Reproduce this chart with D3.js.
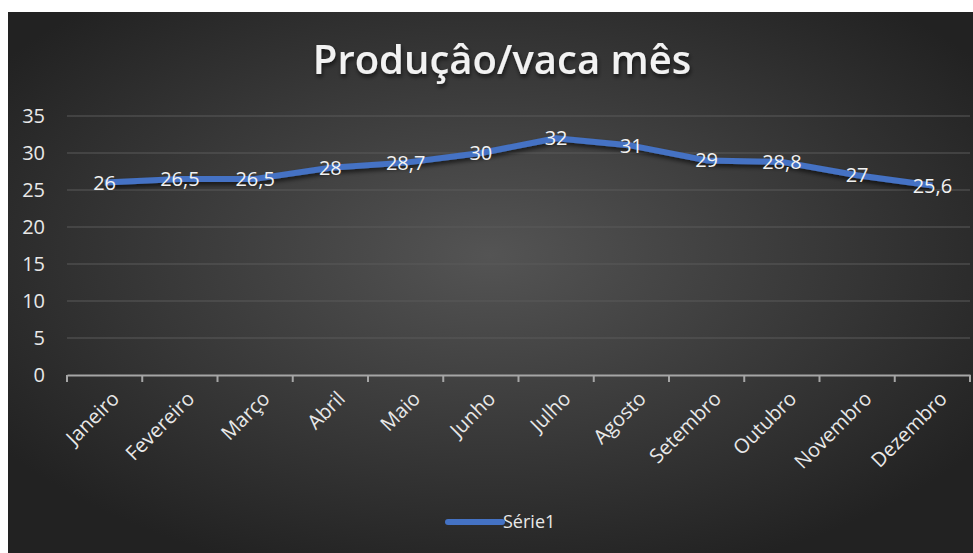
<!DOCTYPE html>
<html>
<head>
<meta charset="utf-8">
<script src="https://cdn.jsdelivr.net/npm/d3@7"></script>
<style>
  body { margin: 0; background: #fff; }
  text { font-family: "Open Sans", "Noto Sans", sans-serif; }
</style>
</head>
<body>
<div id="chart"></div>
<script>
// data
var months = ["Janeiro", "Fevereiro", "Março", "Abril", "Maio", "Junho",
              "Julho", "Agosto", "Setembro", "Outubro", "Novembro", "Dezembro"];
var producao = [26, 26.5, 26.5, 28, 28.7, 30, 32, 31, 29, 28.8, 27, 25.6];
var yTicks = [0, 5, 10, 15, 20, 25, 30, 35];
var seriesName = "Série1";
var chartTitle = "Produçâo/vaca mês";

var width = 973, height = 553;

var svg = d3.select("#chart").append("svg")
    .attr("width", width)
    .attr("height", height);

var defs = svg.append("defs");
var grad = defs.append("radialGradient")
    .attr("id", "bg")
    .attr("cx", "50%").attr("cy", "45%").attr("r", "62%");
grad.append("stop").attr("offset", "0%").attr("stop-color", "#545454");
grad.append("stop").attr("offset", "100%").attr("stop-color", "#222222");

var shadow = defs.append("filter").attr("id", "shadow")
    .attr("x", "-10%").attr("y", "-20%").attr("width", "120%").attr("height", "160%");
shadow.append("feDropShadow")
    .attr("dx", 1).attr("dy", 3).attr("stdDeviation", 2)
    .attr("flood-color", "#000").attr("flood-opacity", 0.6);

// chart box (cut off at the right, like the screenshot)
svg.append("rect")
    .attr("x", 8).attr("y", 12)
    .attr("width", width - 8).attr("height", height - 12)
    .attr("fill", "url(#bg)");

var x = d3.scaleBand().domain(months).range([67, 970]);
var y = d3.scaleLinear().domain([0, 35]).range([375, 116]);

// gridlines
svg.append("g").selectAll("line")
    .data(yTicks.filter(function(d) { return d > 0; }))
    .enter().append("line")
    .attr("x1", 67).attr("x2", 970)
    .attr("y1", function(d) { return y(d); })
    .attr("y2", function(d) { return y(d); })
    .attr("stroke", "#5a5a5a").attr("stroke-width", 1);

// y axis labels
svg.append("g").selectAll("text")
    .data(yTicks).enter().append("text")
    .attr("x", 45)
    .attr("y", function(d) { return y(d); })
    .attr("dy", "0.35em")
    .attr("text-anchor", "end")
    .attr("fill", "#e8e8e8")
    .attr("font-size", 20)
    .text(function(d) { return d; });

// x axis
var xAxis = svg.append("g")
    .attr("transform", "translate(0,375)")
    .call(d3.axisBottom(x).tickSize(0).tickFormat(""));
xAxis.select(".domain").attr("stroke", "#a6a6a6").attr("stroke-width", 2);
// boundary ticks between categories
svg.append("g").selectAll("line")
    .data(d3.range(months.length + 1)).enter().append("line")
    .attr("x1", function(i) { return 67 + i * x.bandwidth(); })
    .attr("x2", function(i) { return 67 + i * x.bandwidth(); })
    .attr("y1", 375).attr("y2", 382)
    .attr("stroke", "#a6a6a6").attr("stroke-width", 2);

svg.append("g").selectAll("text")
    .data(months).enter().append("text")
    .attr("transform", function(d) {
      return "translate(" + (x(d) + x.bandwidth() / 2 + 6) + ",390) rotate(-45)";
    })
    .attr("text-anchor", "end")
    .attr("dy", "0.7em")
    .attr("fill", "#e8e8e8")
    .attr("font-size", 20)
    .text(function(d) { return d; });

// line
var line = d3.line()
    .x(function(d, i) { return x(months[i]) + x.bandwidth() / 2; })
    .y(function(d) { return y(d); });

svg.append("path")
    .datum(producao)
    .attr("d", line)
    .attr("fill", "none")
    .attr("stroke", "#4472c4")
    .attr("stroke-width", 6)
    .attr("stroke-linejoin", "round")
    .attr("filter", "url(#shadow)");

// data labels
var fmt = function(v) { return String(v).replace(".", ","); };
svg.append("g").selectAll("text")
    .data(producao).enter().append("text")
    .attr("x", function(d, i) { return x(months[i]) + x.bandwidth() / 2; })
    .attr("y", function(d) { return y(d); })
    .attr("dy", "0.35em")
    .attr("text-anchor", "middle")
    .attr("fill", "#f2f2f2")
    .attr("font-size", 20)
    .text(fmt);

// title
svg.append("text")
    .attr("x", 502).attr("y", 74)
    .attr("text-anchor", "middle")
    .attr("fill", "#f2f2f2")
    .attr("font-size", 40)
    .attr("font-weight", 600)
    .attr("filter", "url(#shadow)")
    .text(chartTitle);

// legend
svg.append("line")
    .attr("x1", 448).attr("x2", 502)
    .attr("y1", 522).attr("y2", 522)
    .attr("stroke", "#4472c4").attr("stroke-width", 6)
    .attr("stroke-linecap", "round");
svg.append("text")
    .attr("x", 503).attr("y", 522)
    .attr("dy", "0.35em")
    .attr("fill", "#e8e8e8")
    .attr("font-size", 18)
    .text(seriesName);
</script>
</body>
</html>
